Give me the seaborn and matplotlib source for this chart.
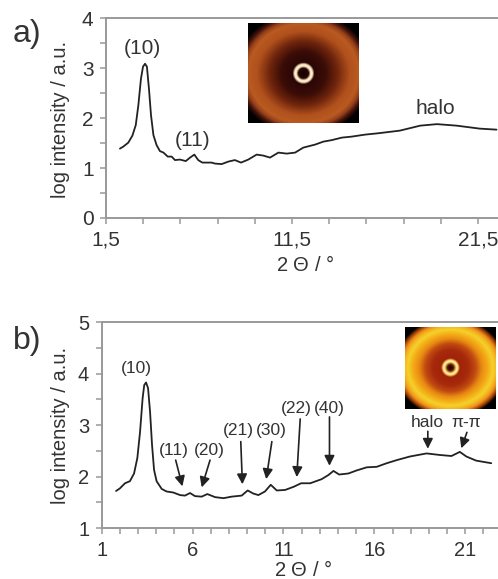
import numpy as np
import matplotlib
matplotlib.use('Agg')
import matplotlib.pyplot as plt
from matplotlib.colors import LinearSegmentedColormap
from matplotlib.ticker import MultipleLocator
import seaborn as sns

W, H = 498, 579

# panel a curve
a_theta = [2.25, 2.43, 2.70, 2.92, 3.10, 3.24, 3.38, 3.49, 3.60, 3.70, 3.81, 3.92, 4.05, 4.22, 4.40, 4.59,
           4.82, 5.03, 5.21, 5.48, 5.79, 6.02, 6.25, 6.46, 6.68, 7.18, 7.36, 7.72, 8.08, 8.43, 8.76, 9.15,
           9.60, 9.96, 10.32, 10.77, 11.22, 11.67, 12.11, 12.74, 13.19, 13.64, 14.18, 14.71, 15.43,
           16.20, 17.30, 18.40, 19.30, 20.35, 21.60, 22.50]
a_log = [1.39, 1.43, 1.51, 1.65, 1.86, 2.26, 2.79, 3.03, 3.09, 3.03, 2.59, 2.06, 1.66, 1.46, 1.34, 1.31,
         1.23, 1.23, 1.16, 1.17, 1.14, 1.21, 1.27, 1.16, 1.11, 1.11, 1.09, 1.08, 1.13, 1.16, 1.11, 1.17,
         1.27, 1.25, 1.21, 1.31, 1.29, 1.31, 1.41, 1.47, 1.53, 1.56, 1.61, 1.63, 1.67,
         1.70, 1.75, 1.85, 1.88, 1.85, 1.79, 1.77]

# panel b curve
b_theta = [1.79, 2.00, 2.28, 2.55, 2.78, 2.96, 3.11, 3.25, 3.34, 3.44, 3.55, 3.66, 3.77, 3.88, 4.02, 4.30,
           4.57, 4.94, 5.31, 5.58, 5.86, 6.13, 6.50, 6.81, 7.24, 7.70, 8.15, 8.70, 9.03, 9.34, 9.62, 9.98,
           10.30, 10.63, 11.09, 11.55, 11.97, 12.47, 13.10, 13.47, 13.75, 14.06, 14.57, 15.03, 15.58,
           16.13, 16.68, 17.23, 17.95, 18.87, 19.60, 20.24, 20.70, 21.06, 21.60, 22.43]
b_log = [1.72, 1.77, 1.87, 1.91, 2.06, 2.36, 2.87, 3.52, 3.78, 3.83, 3.72, 3.26, 2.61, 2.13, 1.91, 1.76,
         1.71, 1.69, 1.64, 1.63, 1.68, 1.62, 1.61, 1.66, 1.60, 1.58, 1.61, 1.63, 1.73, 1.67, 1.64, 1.71,
         1.84, 1.73, 1.74, 1.80, 1.87, 1.87, 1.95, 2.03, 2.11, 2.04, 2.06, 2.12, 2.18,
         2.19, 2.26, 2.32, 2.39, 2.45, 2.42, 2.40, 2.48, 2.39, 2.31, 2.26]

# peak labels
a_labels = ['(10)', '(11)', 'halo']
a_label_x = [3.47, 6.16, 19.19]
a_label_y = [3.40, 1.55, 2.20]

b_labels = ['(10)', '(11)', '(20)', '(21)', '(30)', '(22)', '(40)', 'halo', 'π-π']
b_label_x = [2.89, 4.98, 6.93, 8.52, 10.32, 11.73, 13.51, 18.93, 21.04]
b_label_y = [4.11, 2.51, 2.51, 2.90, 2.90, 3.33, 3.33, 3.06, 3.06]

# arrows: tail and tip
arrow_x0 = [5.07, 6.96, 8.65, 10.36, 11.92, 13.53, 18.94, 21.09]
arrow_y0 = [2.32, 2.32, 2.68, 2.68, 3.12, 3.16, 2.88, 2.86]
arrow_x1 = [5.44, 6.50, 8.74, 10.05, 11.73, 13.53, 18.94, 20.78]
arrow_y1 = [1.81, 1.79, 1.85, 1.95, 1.99, 2.21, 2.54, 2.55]

# detector images, brightness by distance from centre
a_radii = [0, 5, 7, 8, 9, 11, 22, 32, 42, 50, 54, 58, 62]
a_colors = ['#0a0000', '#2a0505', '#f0d8b0', '#fff4e0', '#f0d8b0', '#2a0606', '#3a0c06', '#6e240c',
            '#b0501c', '#b85a20', '#96401a', '#40120a', '#000000']
b_radii = [0, 3, 5.5, 6.5, 7.5, 9.5, 18, 24, 29, 34, 38, 41, 44, 47, 50]
b_colors = ['#100000', '#601008', '#f5d060', '#fff6c0', '#f5d060', '#a02208', '#a82a0c', '#c04a10',
            '#e88a12', '#f4b018', '#f4d02a', '#f4b820', '#ec8e18', '#a04008', '#000000']

sns.set_style('ticks')
plt.rcParams['font.family'] = ['Liberation Sans', 'DejaVu Sans']
plt.rcParams['mathtext.fontset'] = 'custom'
plt.rcParams['mathtext.it'] = 'Liberation Sans:italic'
plt.rcParams['mathtext.rm'] = 'Liberation Sans'

GREY = '#999999'
TEXT = '#333333'


def px_axes(fig, left, top, right, bottom):
    return fig.add_axes([left / W, 1 - bottom / H, (right - left) / W, (bottom - top) / H])


def style_axes(ax, size):
    sns.despine(ax=ax, top=False, right=True)
    for s in ['left', 'top', 'bottom']:
        ax.spines[s].set_color(GREY)
        ax.spines[s].set_linewidth(1.4)
    ax.tick_params(which='both', color=GREY, width=1.1, length=4, labelsize=size,
                   labelcolor=TEXT, pad=5)


def put_label(fig, ax, axis, text, px, py):
    # axis titles sit at fixed pixel spots
    lab = ax.xaxis if axis == 'x' else ax.yaxis
    lab.set_label_text(text, fontsize=14.5, color=TEXT)
    lab.set_label_coords(px / W, 1 - py / H, transform=fig.transFigure)
    lab.label.set_verticalalignment('center')
    lab.label.set_horizontalalignment('center')


def detector(fig, box, radii, colors):
    # ring pattern drawn as a heatmap, true circles in the middle, wider at the rim
    ax = px_axes(fig, *box)
    w, h = box[2] - box[0], box[3] - box[1]
    cx, cy = (box[0] + box[2]) / 2, (box[1] + box[3]) / 2
    xx, yy = np.meshgrid(np.arange(box[0], box[2], 0.5) + 0.25 - cx, np.arange(box[1], box[3], 0.5) + 0.25 - cy)
    r0 = np.hypot(xx, yy)
    blend = np.clip((r0 - 0.4 * h / 2) / (0.5 * h / 2), 0, 1)
    r = np.hypot(xx * (1 + (h / w - 1) * blend), yy)
    level = np.interp(r, radii, np.arange(len(radii)))
    cmap = LinearSegmentedColormap.from_list('ring', colors, N=512)
    sns.heatmap(level, ax=ax, cmap=cmap, cbar=False, xticklabels=False, yticklabels=False,
                vmin=0, vmax=len(radii) - 1, rasterized=True)
    ax.tick_params(length=0)
    return ax


fig = plt.figure(figsize=(W / 100, H / 100), dpi=100)

# panel a
ax_a = px_axes(fig, 106, 18.3, 498, 218)
sns.lineplot(x=a_theta, y=a_log, ax=ax_a, color='#222222', linewidth=1.3, estimator=None, sort=False)
ax_a.set_xlim(1.5, 22.58)
ax_a.set_ylim(0, 4)
ax_a.set_xticks([1.5, 11.5, 21.5], ['1,5', '11,5', '21,5'])
ax_a.xaxis.set_minor_locator(MultipleLocator(2, offset=1.5))
ax_a.set_yticks([0, 1, 2, 3, 4])
ax_a.yaxis.set_minor_locator(MultipleLocator(0.5))
style_axes(ax_a, 15)
put_label(fig, ax_a, 'x', r'2 $\mathit{Θ}$ / °', 305, 265)
put_label(fig, ax_a, 'y', 'log intensity / a.u.', 61, 119)
for t, x, y in zip(a_labels, a_label_x, a_label_y):
    ax_a.text(x, y, t, fontsize=15, color=TEXT, ha='center', va='center')

# panel b
ax_b = px_axes(fig, 101.7, 322.3, 498, 528)
sns.lineplot(x=b_theta, y=b_log, ax=ax_b, color='#222222', linewidth=1.3, estimator=None, sort=False)
ax_b.set_xlim(1, 22.8)
ax_b.set_ylim(1, 5)
ax_b.set_xticks([1, 6, 11, 16, 21])
ax_b.xaxis.set_minor_locator(MultipleLocator(1))
ax_b.set_yticks([1, 2, 3, 4, 5])
ax_b.yaxis.set_minor_locator(MultipleLocator(0.5))
style_axes(ax_b, 14.5)
put_label(fig, ax_b, 'x', r'2 $\mathit{Θ}$ / °', 303, 570)
put_label(fig, ax_b, 'y', 'log intensity / a.u.', 60, 425)
for t, x, y in zip(b_labels, b_label_x, b_label_y):
    ax_b.text(x, y, t, fontsize=12.5, color=TEXT, ha='center', va='center')
for x0, y0, x1, y1 in zip(arrow_x0, arrow_y0, arrow_x1, arrow_y1):
    ax_b.annotate('', xy=(x1, y1), xytext=(x0, y0),
                  arrowprops=dict(arrowstyle='-|>', color='#222222', lw=1.2, mutation_scale=15,
                                  shrinkA=0, shrinkB=0))

# insets
detector(fig, (248, 23, 358.5, 123), a_radii, a_colors)
detector(fig, (404.5, 327, 496, 408.7), b_radii, b_colors)

fig.text(13 / W, 1 - 42 / H, 'a)', fontsize=23, color=TEXT, ha='left', va='baseline')
fig.text(13 / W, 1 - 349 / H, 'b)', fontsize=23, color=TEXT, ha='left', va='baseline')

fig.savefig('out.png', dpi=100)
